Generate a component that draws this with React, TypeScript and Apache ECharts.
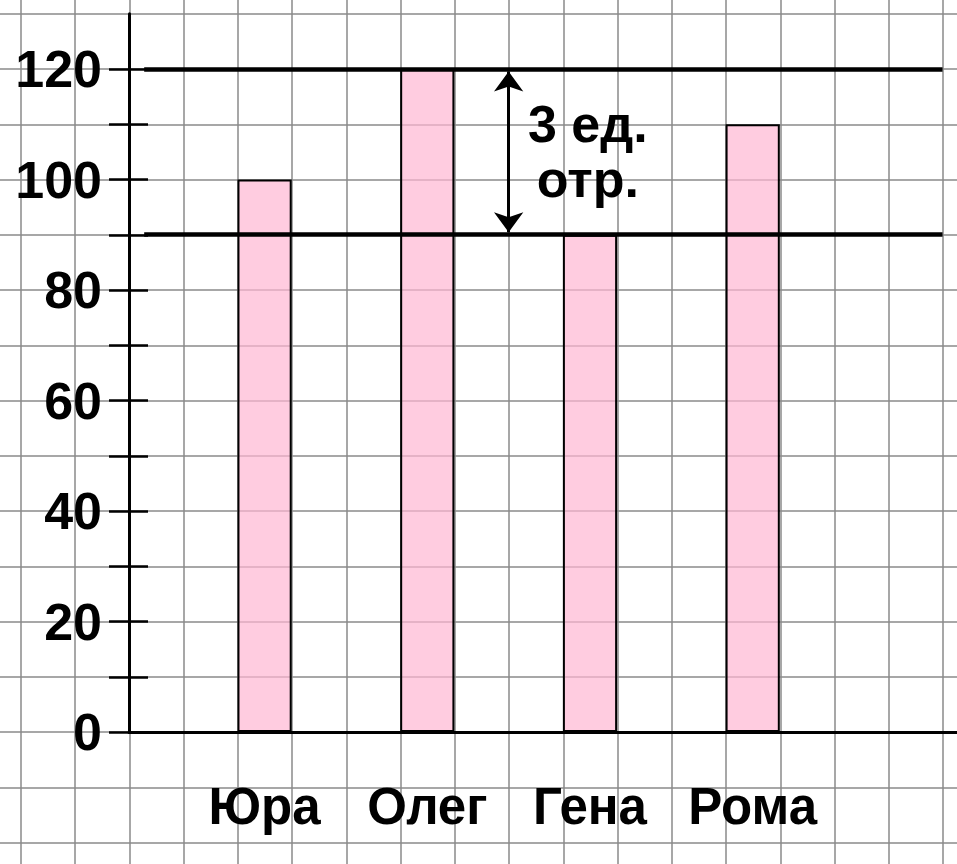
import React, { useEffect, useRef } from "react";
import * as echarts from "echarts";

// ---- data ----
const categories = ["Юра", "Олег", "Гена", "Рома"];
const values = [100, 120, 90, 110];
const yTickValues = [0, 10, 20, 30, 40, 50, 60, 70, 80, 90, 100, 110, 120];
const yLabelValues = [0, 20, 40, 60, 80, 100, 120];
const referenceLevels = [120, 90];
const arrowFrom = 120;
const arrowTo = 90;
const annotationLines = ["3 ед.", "отр."];

const FONT = "'Liberation Sans', Arial, Helvetica, sans-serif";

export default function App() {
  const ref = useRef<HTMLDivElement>(null);

  useEffect(() => {
    if (!ref.current) return;
    const chart = echarts.init(ref.current, null, { renderer: "svg" });

    const W = 957;
    const H = 864;
    const cell = 54.235; // graph paper cell width
    const axisX = 129; // y axis position
    const zeroY = 732; // x axis position
    const unit = 5.525; // px per value unit
    const yMax = 130;
    const topPx = zeroY - yMax * unit;
    const bottomGap = H - zeroY;
    const mainXMax = (W - axisX) / cell;

    const arrowInset = 2.4 / unit;
    const arrowX = 7;
    const hLineStart = 0.28;
    const hLineEnd = 15;
    const textX = 8.46;
    const textY = 105.1;

    const gridColor = "#8a8a8a";

    const option: any = {
      animation: false,
      backgroundColor: "#ffffff",
      grid: [
        { left: 21, right: W - 943, top: 0, bottom: 0 },
        { left: 0, right: 0, top: topPx, bottom: H - (zeroY + 20 * unit) },
        { left: axisX, right: 0, top: topPx, bottom: bottomGap },
        {
          left: axisX + cell,
          right: W - (axisX + cell + 4 * 3 * cell),
          top: topPx,
          bottom: bottomGap,
        },
      ],
      xAxis: [
        {
          gridIndex: 0,
          type: "value",
          min: 0,
          max: 17,
          interval: 1,
          axisLine: { show: false },
          axisTick: { show: false },
          axisLabel: { show: false },
          splitLine: { show: true, lineStyle: { color: gridColor, width: 1.5 } },
          z: 0,
        },
        { gridIndex: 1, type: "value", min: 0, max: 1, show: false },
        {
          gridIndex: 2,
          type: "value",
          min: 0,
          max: mainXMax,
          axisLine: { show: true, lineStyle: { color: "#000", width: 3 } },
          axisTick: { show: false },
          axisLabel: { show: false },
          splitLine: { show: false },
          z: 6,
        },
        {
          gridIndex: 3,
          type: "category",
          data: categories,
          axisLine: { show: false },
          axisTick: { show: false },
          splitLine: { show: false },
          axisLabel: {
            interval: 0,
            color: "#000",
            fontFamily: FONT,
            fontWeight: "bold",
            fontSize: 51,
            margin: 49,
          },
        },
      ],
      yAxis: [
        { gridIndex: 0, type: "value", min: 0, max: 1, show: false },
        {
          gridIndex: 1,
          type: "value",
          min: -20,
          max: 130,
          interval: 10,
          axisLine: { show: false },
          axisTick: { show: false },
          axisLabel: { show: false },
          splitLine: { show: true, lineStyle: { color: gridColor, width: 1.5 } },
          z: 0,
        },
        {
          gridIndex: 2,
          type: "value",
          position: "left",
          min: 0,
          max: yMax,
          axisLine: { show: true, lineStyle: { color: "#000", width: 3 } },
          axisTick: {
            show: true,
            inside: false,
            length: 20,
            customValues: yTickValues,
            lineStyle: { color: "#000", width: 2.5 },
          },
          axisLabel: {
            show: true,
            customValues: yLabelValues,
            color: "#000",
            fontFamily: FONT,
            fontWeight: "bold",
            fontSize: 52,
            margin: 27,
          },
          splitLine: { show: false },
          z: 6,
        },
        {
          gridIndex: 2,
          type: "value",
          position: "left",
          min: 0,
          max: yMax,
          axisLine: { show: false },
          axisTick: {
            show: true,
            inside: true,
            length: 19,
            customValues: yTickValues,
            lineStyle: { color: "#000", width: 2.5 },
          },
          axisLabel: { show: false },
          splitLine: { show: false },
          z: 6,
        },
        { gridIndex: 3, type: "value", min: 0, max: yMax, show: false },
      ],
      series: [
        {
          type: "bar",
          xAxisIndex: 3,
          yAxisIndex: 4,
          data: values,
          barWidth: cell,
          itemStyle: {
            color: "rgba(255,182,211,0.7)",
            borderColor: "#000",
            borderWidth: 2,
          },
          silent: true,
          z: 3,
        },
        {
          type: "line",
          xAxisIndex: 2,
          yAxisIndex: 2,
          data: [],
          showSymbol: false,
          silent: true,
          z: 7,
          markLine: {
            silent: true,
            symbol: ["none", "none"],
            label: { show: false },
            lineStyle: { color: "#000", width: 4.5, type: "solid" },
            data: referenceLevels.map((v) => [
              { coord: [hLineStart, v] },
              { coord: [hLineEnd, v] },
            ]),
          },
        },
        {
          type: "line",
          xAxisIndex: 2,
          yAxisIndex: 2,
          data: [],
          showSymbol: false,
          silent: true,
          z: 7,
          markLine: {
            silent: true,
            symbol: ["arrow", "arrow"],
            symbolSize: [22, 20],
            label: { show: false },
            lineStyle: { color: "#000", width: 3, type: "solid" },
            itemStyle: { color: "#000" },
            data: [
              [
                { coord: [arrowX, arrowFrom - arrowInset] },
                { coord: [arrowX, arrowTo + arrowInset] },
              ],
            ],
          },
        },
      ],
    };

    chart.setOption(option);

    const p = chart.convertToPixel({ xAxisIndex: 2, yAxisIndex: 2 } as any, [
      textX,
      textY,
    ]) as number[];
    chart.setOption({
      graphic: [
        {
          type: "text",
          x: p[0],
          y: p[1],
          z: 10,
          silent: true,
          style: {
            text: annotationLines.join("\n"),
            fill: "#000",
            font: `bold 52px ${FONT}`,
            lineHeight: 55,
            align: "center",
            verticalAlign: "middle",
          },
        },
      ],
    });

    return () => chart.dispose();
  }, []);

  return (
    <div
      ref={ref}
      style={{ position: "fixed", left: 0, top: 0, width: 957, height: 864 }}
    />
  );
}
